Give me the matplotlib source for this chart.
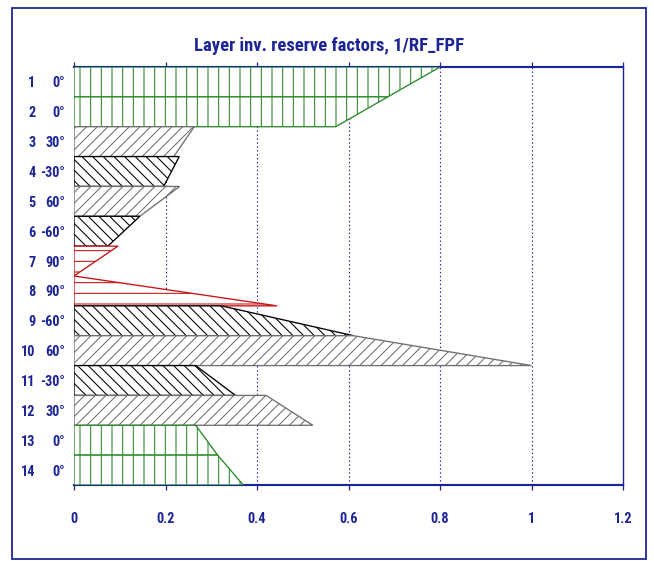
import os
import matplotlib
matplotlib.use("Agg")
import matplotlib.pyplot as plt
from matplotlib.patches import Polygon, Rectangle
from matplotlib import font_manager
from matplotlib.font_manager import FontProperties

# ply stack: layer number, ply angle, inverse reserve factor at top / bottom of each ply
layer_no = list(range(1, 15))
ply_angle = [0, 0, 30, -30, 60, -60, 90, 90, -60, 60, -30, 30, 0, 0]
rf_top = [0.800, 0.686, 0.263, 0.230, 0.231, 0.144, 0.096, 0.000,
          0.322, 0.611, 0.266, 0.420, 0.266, 0.314]
rf_bot = [0.686, 0.572, 0.218, 0.196, 0.144, 0.074, 0.000, 0.444,
          0.611, 1.000, 0.353, 0.522, 0.314, 0.370]
x_ticks = [0, 0.2, 0.4, 0.6, 0.8, 1.0, 1.2]
x_ticklabels = ["0", "0.2", "0.4", "0.6", "0.8", "1", "1.2"]
title = "Layer inv. reserve factors, 1/RF_FPF"

navy = "#1c2496"


def pick_narrow_bold():
    """Look for a bold condensed/narrow sans face; None if there is none."""
    pref = ["Liberation Sans Narrow", "Roboto Condensed", "Roboto", "DejaVu Sans",
            "Noto Sans", "Open Sans", "Open Sans Condensed", "Noto Sans Condensed"]
    best = None
    for f in font_manager.fontManager.ttflist:
        base = os.path.basename(f.fname)
        narrow = ("Narrow" in f.name or "Condensed" in f.name
                  or "Condensed" in base or "Narrow" in base
                  or f.stretch in ("condensed", "semi-condensed"))
        if not narrow or "Extra" in base or "Italic" in base or "Oblique" in base:
            continue
        if f.name not in pref:
            continue
        w = f.weight if isinstance(f.weight, int) else {"bold": 700, "semibold": 600,
                                                         "demibold": 600}.get(f.weight, 400)
        if w < 600 or w > 700:
            continue
        key = (pref.index(f.name), "Semi" in base)
        if best is None or key < best[0]:
            best = (key, f.fname)
    return best[1] if best else None


narrow_file = pick_narrow_bold()


def fp(size):
    if narrow_file:
        return FontProperties(fname=narrow_file, size=size)
    return FontProperties(family=["Liberation Sans", "DejaVu Sans"], weight="bold",
                          size=size * 0.85)


def ply_style(a):
    # hatch + colour by fibre direction
    if a == 0:
        return "|", "#2b8a2b"
    if a == 90:
        return "-", "#c41414"
    if a > 0:
        return "//", "#707070"
    return "\\\\", "#000000"


DPI = 64
fig = plt.figure(figsize=(654 / DPI, 561 / DPI), dpi=DPI)
plt.rcParams["hatch.linewidth"] = 1.2
ax = fig.add_axes([74 / 654, 1 - 485 / 561, (623 - 74) / 654, (485 - 67) / 561])

for i, (a, t, b) in enumerate(zip(ply_angle, rf_top, rf_bot)):
    hatch, col = ply_style(a)
    poly = Polygon([(0, i), (t, i), (b, i + 1), (0, i + 1)], closed=True,
                   facecolor="white", edgecolor=col, hatch=hatch, lw=1.5, zorder=3)
    ax.add_patch(poly)

ax.set_xlim(0, 1.2)
ax.set_ylim(14, 0)
ax.set_xticks(x_ticks)
ax.set_xticklabels(x_ticklabels, fontproperties=fp(16), color=navy)
ax.tick_params(axis="x", which="both", top=True, bottom=True, direction="out",
               length=6, width=1.4, color=navy, pad=24)
ax.set_yticks([])

for x in x_ticks[1:-1]:
    ax.axvline(x, color=navy, ls=(0, (1.2, 2.2)), lw=1.3, zorder=1)

for side in ("top", "bottom"):
    ax.spines[side].set_color(navy)
    ax.spines[side].set_linewidth(2.4)
ax.spines["right"].set_color(navy)
ax.spines["right"].set_linewidth(1.6)
ax.spines["left"].set_visible(False)

# layer number and ply angle to the left of the stack
for i, (n, a) in enumerate(zip(layer_no, ply_angle)):
    yc = i + 0.55
    ax.text(-0.084, yc, str(n), ha="right", va="center", fontproperties=fp(16), color=navy)
    ax.text(-0.020, yc, f"{a}°", ha="right", va="center", fontproperties=fp(16), color=navy)

ttl = fig.text(329 / 654, 1 - 46 / 561, title, ha="center", va="center",
               fontproperties=fp(21), color=navy)
# keep the title to the width of the heading line
r = fig.canvas.get_renderer()
w = ttl.get_window_extent(r).width
if w > 274:
    ttl.set_fontproperties(fp(21 * 270 / w if narrow_file else 21 * 270 / w / 0.85))

# outer frame around the chart
fig.patches.append(Rectangle((12 / 654, 1 - 559 / 561), (646 - 12) / 654, (559 - 8) / 561,
                             transform=fig.transFigure, fill=False,
                             edgecolor=navy, lw=2.0))

fig.savefig("out.png", dpi=DPI, facecolor="white")
